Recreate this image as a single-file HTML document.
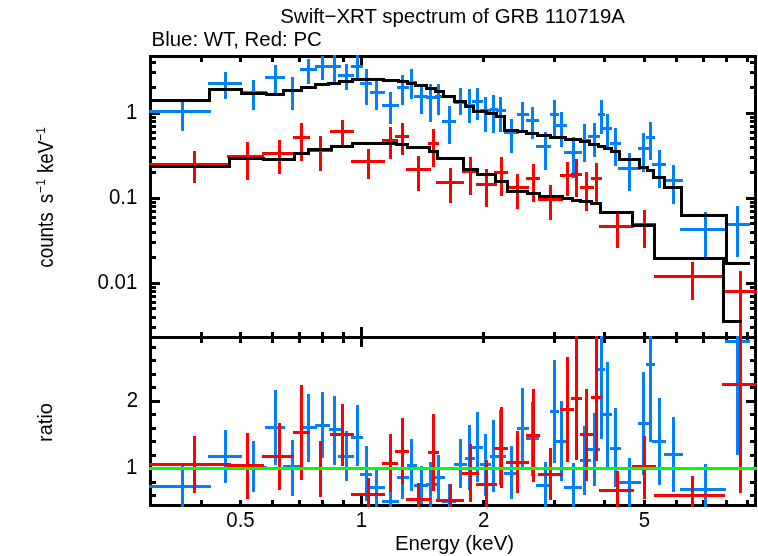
<!DOCTYPE html>
<html><head><meta charset="utf-8"><title>Swift-XRT spectrum of GRB 110719A</title>
<style>html,body{margin:0;padding:0;background:#fff;}svg{display:block;}</style></head>
<body>
<svg width="758" height="556" viewBox="0 0 758 556">
<g shape-rendering="crispEdges">
<rect x="0" y="0" width="758" height="556" fill="#ffffff"/>
<rect x="149" y="55" width="608" height="3" fill="#000000"/>
<rect x="149" y="336" width="608" height="3" fill="#000000"/>
<rect x="149" y="504" width="608" height="3" fill="#000000"/>
<rect x="149" y="55" width="3" height="452" fill="#000000"/>
<rect x="754" y="55" width="3" height="452" fill="#000000"/>
<rect x="200" y="58" width="3" height="4" fill="#000000"/>
<rect x="200" y="332" width="3" height="11" fill="#000000"/>
<rect x="200" y="500" width="3" height="4" fill="#000000"/>
<rect x="239" y="58" width="3" height="4" fill="#000000"/>
<rect x="239" y="332" width="3" height="11" fill="#000000"/>
<rect x="239" y="500" width="3" height="4" fill="#000000"/>
<rect x="271" y="58" width="3" height="4" fill="#000000"/>
<rect x="271" y="332" width="3" height="11" fill="#000000"/>
<rect x="271" y="500" width="3" height="4" fill="#000000"/>
<rect x="298" y="58" width="3" height="4" fill="#000000"/>
<rect x="298" y="332" width="3" height="11" fill="#000000"/>
<rect x="298" y="500" width="3" height="4" fill="#000000"/>
<rect x="321" y="58" width="3" height="4" fill="#000000"/>
<rect x="321" y="332" width="3" height="11" fill="#000000"/>
<rect x="321" y="500" width="3" height="4" fill="#000000"/>
<rect x="342" y="58" width="3" height="4" fill="#000000"/>
<rect x="342" y="332" width="3" height="11" fill="#000000"/>
<rect x="342" y="500" width="3" height="4" fill="#000000"/>
<rect x="360" y="58" width="3" height="8" fill="#000000"/>
<rect x="360" y="327" width="3" height="20" fill="#000000"/>
<rect x="360" y="496" width="3" height="8" fill="#000000"/>
<rect x="482" y="58" width="3" height="4" fill="#000000"/>
<rect x="482" y="332" width="3" height="11" fill="#000000"/>
<rect x="482" y="500" width="3" height="4" fill="#000000"/>
<rect x="553" y="58" width="3" height="4" fill="#000000"/>
<rect x="553" y="332" width="3" height="11" fill="#000000"/>
<rect x="553" y="500" width="3" height="4" fill="#000000"/>
<rect x="603" y="58" width="3" height="4" fill="#000000"/>
<rect x="603" y="332" width="3" height="11" fill="#000000"/>
<rect x="603" y="500" width="3" height="4" fill="#000000"/>
<rect x="643" y="58" width="3" height="4" fill="#000000"/>
<rect x="643" y="332" width="3" height="11" fill="#000000"/>
<rect x="643" y="500" width="3" height="4" fill="#000000"/>
<rect x="675" y="58" width="3" height="4" fill="#000000"/>
<rect x="675" y="332" width="3" height="11" fill="#000000"/>
<rect x="675" y="500" width="3" height="4" fill="#000000"/>
<rect x="702" y="58" width="3" height="4" fill="#000000"/>
<rect x="702" y="332" width="3" height="11" fill="#000000"/>
<rect x="702" y="500" width="3" height="4" fill="#000000"/>
<rect x="725" y="58" width="3" height="4" fill="#000000"/>
<rect x="725" y="332" width="3" height="11" fill="#000000"/>
<rect x="725" y="500" width="3" height="4" fill="#000000"/>
<rect x="746" y="58" width="3" height="4" fill="#000000"/>
<rect x="746" y="332" width="3" height="11" fill="#000000"/>
<rect x="746" y="500" width="3" height="4" fill="#000000"/>
<rect x="152" y="112" width="8" height="3" fill="#000000"/>
<rect x="746" y="112" width="8" height="3" fill="#000000"/>
<rect x="152" y="86" width="4" height="3" fill="#000000"/>
<rect x="750" y="86" width="4" height="3" fill="#000000"/>
<rect x="152" y="71" width="4" height="3" fill="#000000"/>
<rect x="750" y="71" width="4" height="3" fill="#000000"/>
<rect x="152" y="61" width="4" height="3" fill="#000000"/>
<rect x="750" y="61" width="4" height="3" fill="#000000"/>
<rect x="152" y="197" width="8" height="3" fill="#000000"/>
<rect x="746" y="197" width="8" height="3" fill="#000000"/>
<rect x="152" y="171" width="4" height="3" fill="#000000"/>
<rect x="750" y="171" width="4" height="3" fill="#000000"/>
<rect x="152" y="156" width="4" height="3" fill="#000000"/>
<rect x="750" y="156" width="4" height="3" fill="#000000"/>
<rect x="152" y="146" width="4" height="3" fill="#000000"/>
<rect x="750" y="146" width="4" height="3" fill="#000000"/>
<rect x="152" y="137" width="4" height="3" fill="#000000"/>
<rect x="750" y="137" width="4" height="3" fill="#000000"/>
<rect x="152" y="131" width="4" height="3" fill="#000000"/>
<rect x="750" y="131" width="4" height="3" fill="#000000"/>
<rect x="152" y="125" width="4" height="3" fill="#000000"/>
<rect x="750" y="125" width="4" height="3" fill="#000000"/>
<rect x="152" y="120" width="4" height="3" fill="#000000"/>
<rect x="750" y="120" width="4" height="3" fill="#000000"/>
<rect x="152" y="116" width="4" height="3" fill="#000000"/>
<rect x="750" y="116" width="4" height="3" fill="#000000"/>
<rect x="152" y="282" width="8" height="3" fill="#000000"/>
<rect x="746" y="282" width="8" height="3" fill="#000000"/>
<rect x="152" y="256" width="4" height="3" fill="#000000"/>
<rect x="750" y="256" width="4" height="3" fill="#000000"/>
<rect x="152" y="241" width="4" height="3" fill="#000000"/>
<rect x="750" y="241" width="4" height="3" fill="#000000"/>
<rect x="152" y="231" width="4" height="3" fill="#000000"/>
<rect x="750" y="231" width="4" height="3" fill="#000000"/>
<rect x="152" y="222" width="4" height="3" fill="#000000"/>
<rect x="750" y="222" width="4" height="3" fill="#000000"/>
<rect x="152" y="216" width="4" height="3" fill="#000000"/>
<rect x="750" y="216" width="4" height="3" fill="#000000"/>
<rect x="152" y="210" width="4" height="3" fill="#000000"/>
<rect x="750" y="210" width="4" height="3" fill="#000000"/>
<rect x="152" y="205" width="4" height="3" fill="#000000"/>
<rect x="750" y="205" width="4" height="3" fill="#000000"/>
<rect x="152" y="201" width="4" height="3" fill="#000000"/>
<rect x="750" y="201" width="4" height="3" fill="#000000"/>
<rect x="152" y="326" width="4" height="3" fill="#000000"/>
<rect x="750" y="326" width="4" height="3" fill="#000000"/>
<rect x="152" y="316" width="4" height="3" fill="#000000"/>
<rect x="750" y="316" width="4" height="3" fill="#000000"/>
<rect x="152" y="307" width="4" height="3" fill="#000000"/>
<rect x="750" y="307" width="4" height="3" fill="#000000"/>
<rect x="152" y="301" width="4" height="3" fill="#000000"/>
<rect x="750" y="301" width="4" height="3" fill="#000000"/>
<rect x="152" y="295" width="4" height="3" fill="#000000"/>
<rect x="750" y="295" width="4" height="3" fill="#000000"/>
<rect x="152" y="290" width="4" height="3" fill="#000000"/>
<rect x="750" y="290" width="4" height="3" fill="#000000"/>
<rect x="152" y="286" width="4" height="3" fill="#000000"/>
<rect x="750" y="286" width="4" height="3" fill="#000000"/>
<rect x="152" y="494" width="4" height="3" fill="#000000"/>
<rect x="750" y="494" width="4" height="3" fill="#000000"/>
<rect x="152" y="481" width="4" height="3" fill="#000000"/>
<rect x="750" y="481" width="4" height="3" fill="#000000"/>
<rect x="152" y="467" width="8" height="3" fill="#000000"/>
<rect x="746" y="467" width="8" height="3" fill="#000000"/>
<rect x="152" y="454" width="4" height="3" fill="#000000"/>
<rect x="750" y="454" width="4" height="3" fill="#000000"/>
<rect x="152" y="440" width="4" height="3" fill="#000000"/>
<rect x="750" y="440" width="4" height="3" fill="#000000"/>
<rect x="152" y="427" width="4" height="3" fill="#000000"/>
<rect x="750" y="427" width="4" height="3" fill="#000000"/>
<rect x="152" y="413" width="4" height="3" fill="#000000"/>
<rect x="750" y="413" width="4" height="3" fill="#000000"/>
<rect x="152" y="400" width="8" height="3" fill="#000000"/>
<rect x="746" y="400" width="8" height="3" fill="#000000"/>
<rect x="152" y="386" width="4" height="3" fill="#000000"/>
<rect x="750" y="386" width="4" height="3" fill="#000000"/>
<rect x="152" y="373" width="4" height="3" fill="#000000"/>
<rect x="750" y="373" width="4" height="3" fill="#000000"/>
<rect x="152" y="359" width="4" height="3" fill="#000000"/>
<rect x="750" y="359" width="4" height="3" fill="#000000"/>
<rect x="152" y="346" width="4" height="3" fill="#000000"/>
<rect x="750" y="346" width="4" height="3" fill="#000000"/>
<rect x="149" y="110" width="62" height="3" fill="#0080ff"/>
<rect x="181" y="99" width="3" height="32" fill="#0080ff"/>
<rect x="208" y="82" width="34" height="3" fill="#0080ff"/>
<rect x="224" y="72" width="3" height="27" fill="#0080ff"/>
<rect x="240" y="91" width="27" height="3" fill="#0080ff"/>
<rect x="252" y="80" width="3" height="30" fill="#0080ff"/>
<rect x="265" y="76" width="20" height="3" fill="#0080ff"/>
<rect x="274" y="65" width="3" height="28" fill="#0080ff"/>
<rect x="283" y="89" width="20" height="3" fill="#0080ff"/>
<rect x="291" y="77" width="3" height="33" fill="#0080ff"/>
<rect x="300" y="68" width="17" height="3" fill="#0080ff"/>
<rect x="307" y="59" width="3" height="25" fill="#0080ff"/>
<rect x="315" y="65" width="15" height="3" fill="#0080ff"/>
<rect x="321" y="56" width="3" height="24" fill="#0080ff"/>
<rect x="329" y="65" width="12" height="3" fill="#0080ff"/>
<rect x="333" y="55" width="3" height="27" fill="#0080ff"/>
<rect x="338" y="74" width="16" height="3" fill="#0080ff"/>
<rect x="345" y="64" width="3" height="26" fill="#0080ff"/>
<rect x="351" y="65" width="12" height="3" fill="#0080ff"/>
<rect x="356" y="55" width="3" height="24" fill="#0080ff"/>
<rect x="360" y="82" width="12" height="3" fill="#0080ff"/>
<rect x="365" y="69" width="3" height="36" fill="#0080ff"/>
<rect x="370" y="91" width="15" height="3" fill="#0080ff"/>
<rect x="375" y="81" width="3" height="29" fill="#0080ff"/>
<rect x="382" y="104" width="17" height="3" fill="#0080ff"/>
<rect x="389" y="92" width="3" height="32" fill="#0080ff"/>
<rect x="397" y="86" width="12" height="3" fill="#0080ff"/>
<rect x="401" y="75" width="3" height="30" fill="#0080ff"/>
<rect x="407" y="81" width="10" height="3" fill="#0080ff"/>
<rect x="410" y="69" width="3" height="30" fill="#0080ff"/>
<rect x="414" y="95" width="14" height="3" fill="#0080ff"/>
<rect x="420" y="86" width="3" height="28" fill="#0080ff"/>
<rect x="426" y="96" width="11" height="3" fill="#0080ff"/>
<rect x="429" y="84" width="3" height="38" fill="#0080ff"/>
<rect x="435" y="95" width="10" height="3" fill="#0080ff"/>
<rect x="437" y="84" width="3" height="31" fill="#0080ff"/>
<rect x="442" y="120" width="14" height="3" fill="#0080ff"/>
<rect x="448" y="106" width="3" height="38" fill="#0080ff"/>
<rect x="454" y="101" width="13" height="3" fill="#0080ff"/>
<rect x="459" y="88" width="3" height="27" fill="#0080ff"/>
<rect x="465" y="104" width="10" height="3" fill="#0080ff"/>
<rect x="468" y="89" width="3" height="34" fill="#0080ff"/>
<rect x="472" y="100" width="11" height="3" fill="#0080ff"/>
<rect x="476" y="88" width="3" height="32" fill="#0080ff"/>
<rect x="480" y="109" width="11" height="3" fill="#0080ff"/>
<rect x="484" y="97" width="3" height="35" fill="#0080ff"/>
<rect x="490" y="108" width="8" height="3" fill="#0080ff"/>
<rect x="492" y="95" width="3" height="38" fill="#0080ff"/>
<rect x="496" y="109" width="10" height="3" fill="#0080ff"/>
<rect x="499" y="97" width="3" height="35" fill="#0080ff"/>
<rect x="504" y="131" width="15" height="3" fill="#0080ff"/>
<rect x="510" y="119" width="3" height="34" fill="#0080ff"/>
<rect x="517" y="113" width="12" height="3" fill="#0080ff"/>
<rect x="521" y="102" width="3" height="31" fill="#0080ff"/>
<rect x="526" y="119" width="13" height="3" fill="#0080ff"/>
<rect x="531" y="107" width="3" height="32" fill="#0080ff"/>
<rect x="536" y="145" width="15" height="3" fill="#0080ff"/>
<rect x="544" y="132" width="3" height="38" fill="#0080ff"/>
<rect x="550" y="113" width="9" height="3" fill="#0080ff"/>
<rect x="553" y="100" width="3" height="36" fill="#0080ff"/>
<rect x="556" y="124" width="11" height="3" fill="#0080ff"/>
<rect x="560" y="112" width="3" height="35" fill="#0080ff"/>
<rect x="564" y="151" width="18" height="3" fill="#0080ff"/>
<rect x="572" y="137" width="3" height="41" fill="#0080ff"/>
<rect x="580" y="139" width="11" height="3" fill="#0080ff"/>
<rect x="583" y="124" width="3" height="38" fill="#0080ff"/>
<rect x="588" y="135" width="12" height="3" fill="#0080ff"/>
<rect x="593" y="123" width="3" height="34" fill="#0080ff"/>
<rect x="598" y="113" width="7" height="3" fill="#0080ff"/>
<rect x="600" y="100" width="3" height="34" fill="#0080ff"/>
<rect x="602" y="127" width="10" height="3" fill="#0080ff"/>
<rect x="606" y="114" width="3" height="34" fill="#0080ff"/>
<rect x="610" y="142" width="11" height="3" fill="#0080ff"/>
<rect x="614" y="128" width="3" height="38" fill="#0080ff"/>
<rect x="618" y="167" width="23" height="3" fill="#0080ff"/>
<rect x="628" y="153" width="3" height="38" fill="#0080ff"/>
<rect x="638" y="147" width="12" height="3" fill="#0080ff"/>
<rect x="642" y="133" width="3" height="39" fill="#0080ff"/>
<rect x="646" y="136" width="9" height="3" fill="#0080ff"/>
<rect x="649" y="122" width="3" height="38" fill="#0080ff"/>
<rect x="652" y="163" width="14" height="3" fill="#0080ff"/>
<rect x="658" y="150" width="3" height="38" fill="#0080ff"/>
<rect x="664" y="179" width="19" height="3" fill="#0080ff"/>
<rect x="672" y="165" width="3" height="39" fill="#0080ff"/>
<rect x="680" y="228" width="46" height="3" fill="#0080ff"/>
<rect x="704" y="212" width="3" height="48" fill="#0080ff"/>
<rect x="725" y="223" width="25" height="3" fill="#0080ff"/>
<rect x="736" y="206" width="3" height="51" fill="#0080ff"/>
<rect x="149" y="163" width="82" height="3" fill="#ff0000"/>
<rect x="193" y="151" width="3" height="32" fill="#ff0000"/>
<rect x="227" y="155" width="37" height="3" fill="#ff0000"/>
<rect x="246" y="142" width="3" height="38" fill="#ff0000"/>
<rect x="262" y="152" width="32" height="3" fill="#ff0000"/>
<rect x="278" y="140" width="3" height="34" fill="#ff0000"/>
<rect x="293" y="136" width="17" height="3" fill="#ff0000"/>
<rect x="300" y="123" width="3" height="38" fill="#ff0000"/>
<rect x="309" y="149" width="24" height="3" fill="#ff0000"/>
<rect x="319" y="136" width="3" height="35" fill="#ff0000"/>
<rect x="330" y="130" width="24" height="3" fill="#ff0000"/>
<rect x="341" y="120" width="3" height="26" fill="#ff0000"/>
<rect x="351" y="160" width="34" height="3" fill="#ff0000"/>
<rect x="367" y="149" width="3" height="30" fill="#ff0000"/>
<rect x="382" y="139" width="16" height="3" fill="#ff0000"/>
<rect x="389" y="127" width="3" height="32" fill="#ff0000"/>
<rect x="395" y="135" width="14" height="3" fill="#ff0000"/>
<rect x="401" y="123" width="3" height="32" fill="#ff0000"/>
<rect x="406" y="168" width="25" height="3" fill="#ff0000"/>
<rect x="417" y="156" width="3" height="35" fill="#ff0000"/>
<rect x="428" y="142" width="11" height="3" fill="#ff0000"/>
<rect x="432" y="129" width="3" height="38" fill="#ff0000"/>
<rect x="436" y="181" width="28" height="3" fill="#ff0000"/>
<rect x="449" y="168" width="3" height="35" fill="#ff0000"/>
<rect x="462" y="170" width="17" height="3" fill="#ff0000"/>
<rect x="469" y="157" width="3" height="38" fill="#ff0000"/>
<rect x="476" y="183" width="21" height="3" fill="#ff0000"/>
<rect x="485" y="169" width="3" height="38" fill="#ff0000"/>
<rect x="494" y="171" width="14" height="3" fill="#ff0000"/>
<rect x="500" y="157" width="3" height="39" fill="#ff0000"/>
<rect x="506" y="186" width="23" height="3" fill="#ff0000"/>
<rect x="516" y="174" width="3" height="35" fill="#ff0000"/>
<rect x="526" y="177" width="14" height="3" fill="#ff0000"/>
<rect x="532" y="164" width="3" height="38" fill="#ff0000"/>
<rect x="538" y="198" width="25" height="3" fill="#ff0000"/>
<rect x="549" y="185" width="3" height="35" fill="#ff0000"/>
<rect x="560" y="174" width="14" height="3" fill="#ff0000"/>
<rect x="566" y="162" width="3" height="34" fill="#ff0000"/>
<rect x="571" y="173" width="11" height="3" fill="#ff0000"/>
<rect x="575" y="159" width="3" height="38" fill="#ff0000"/>
<rect x="580" y="186" width="14" height="3" fill="#ff0000"/>
<rect x="585" y="172" width="3" height="39" fill="#ff0000"/>
<rect x="591" y="177" width="11" height="3" fill="#ff0000"/>
<rect x="595" y="163" width="3" height="39" fill="#ff0000"/>
<rect x="599" y="225" width="35" height="3" fill="#ff0000"/>
<rect x="616" y="214" width="3" height="34" fill="#ff0000"/>
<rect x="632" y="223" width="24" height="3" fill="#ff0000"/>
<rect x="643" y="210" width="3" height="38" fill="#ff0000"/>
<rect x="654" y="275" width="71" height="3" fill="#ff0000"/>
<rect x="691" y="262" width="3" height="38" fill="#ff0000"/>
<rect x="722" y="290" width="35" height="3" fill="#ff0000"/>
<rect x="739" y="271" width="3" height="68" fill="#ff0000"/>
<rect x="149" y="99" width="62" height="3" fill="#000000"/>
<rect x="208" y="88" width="3" height="14" fill="#000000"/>
<rect x="208" y="88" width="35" height="3" fill="#000000"/>
<rect x="240" y="88" width="3" height="7" fill="#000000"/>
<rect x="240" y="92" width="28" height="3" fill="#000000"/>
<rect x="265" y="92" width="3" height="4" fill="#000000"/>
<rect x="265" y="93" width="20" height="3" fill="#000000"/>
<rect x="282" y="89" width="3" height="7" fill="#000000"/>
<rect x="282" y="89" width="21" height="3" fill="#000000"/>
<rect x="300" y="86" width="3" height="6" fill="#000000"/>
<rect x="300" y="86" width="17" height="3" fill="#000000"/>
<rect x="314" y="83" width="3" height="6" fill="#000000"/>
<rect x="314" y="83" width="16" height="3" fill="#000000"/>
<rect x="327" y="82" width="3" height="4" fill="#000000"/>
<rect x="327" y="82" width="14" height="3" fill="#000000"/>
<rect x="338" y="80" width="3" height="5" fill="#000000"/>
<rect x="338" y="80" width="16" height="3" fill="#000000"/>
<rect x="351" y="78" width="3" height="5" fill="#000000"/>
<rect x="351" y="78" width="12" height="3" fill="#000000"/>
<rect x="360" y="78" width="3" height="3" fill="#000000"/>
<rect x="360" y="78" width="25" height="3" fill="#000000"/>
<rect x="382" y="78" width="3" height="4" fill="#000000"/>
<rect x="382" y="79" width="18" height="3" fill="#000000"/>
<rect x="397" y="79" width="3" height="4" fill="#000000"/>
<rect x="397" y="80" width="12" height="3" fill="#000000"/>
<rect x="406" y="80" width="3" height="5" fill="#000000"/>
<rect x="406" y="82" width="11" height="3" fill="#000000"/>
<rect x="414" y="82" width="3" height="5" fill="#000000"/>
<rect x="414" y="84" width="14" height="3" fill="#000000"/>
<rect x="425" y="84" width="3" height="6" fill="#000000"/>
<rect x="425" y="87" width="12" height="3" fill="#000000"/>
<rect x="434" y="87" width="3" height="6" fill="#000000"/>
<rect x="434" y="90" width="11" height="3" fill="#000000"/>
<rect x="442" y="90" width="3" height="8" fill="#000000"/>
<rect x="442" y="95" width="14" height="3" fill="#000000"/>
<rect x="453" y="95" width="3" height="8" fill="#000000"/>
<rect x="453" y="100" width="14" height="3" fill="#000000"/>
<rect x="464" y="100" width="3" height="8" fill="#000000"/>
<rect x="464" y="105" width="11" height="3" fill="#000000"/>
<rect x="472" y="105" width="3" height="8" fill="#000000"/>
<rect x="472" y="110" width="16" height="3" fill="#000000"/>
<rect x="485" y="110" width="3" height="5" fill="#000000"/>
<rect x="485" y="112" width="13" height="3" fill="#000000"/>
<rect x="495" y="112" width="3" height="6" fill="#000000"/>
<rect x="495" y="115" width="11" height="3" fill="#000000"/>
<rect x="503" y="115" width="3" height="17" fill="#000000"/>
<rect x="503" y="129" width="16" height="3" fill="#000000"/>
<rect x="516" y="129" width="3" height="4" fill="#000000"/>
<rect x="516" y="130" width="12" height="3" fill="#000000"/>
<rect x="525" y="130" width="3" height="5" fill="#000000"/>
<rect x="525" y="132" width="14" height="3" fill="#000000"/>
<rect x="536" y="132" width="3" height="5" fill="#000000"/>
<rect x="536" y="134" width="16" height="3" fill="#000000"/>
<rect x="549" y="134" width="3" height="5" fill="#000000"/>
<rect x="549" y="136" width="18" height="3" fill="#000000"/>
<rect x="564" y="136" width="3" height="5" fill="#000000"/>
<rect x="564" y="138" width="18" height="3" fill="#000000"/>
<rect x="579" y="138" width="3" height="5" fill="#000000"/>
<rect x="579" y="140" width="12" height="3" fill="#000000"/>
<rect x="588" y="140" width="3" height="6" fill="#000000"/>
<rect x="588" y="143" width="12" height="3" fill="#000000"/>
<rect x="597" y="143" width="3" height="5" fill="#000000"/>
<rect x="597" y="145" width="9" height="3" fill="#000000"/>
<rect x="603" y="145" width="3" height="5" fill="#000000"/>
<rect x="603" y="147" width="10" height="3" fill="#000000"/>
<rect x="610" y="147" width="3" height="6" fill="#000000"/>
<rect x="610" y="150" width="11" height="3" fill="#000000"/>
<rect x="618" y="150" width="3" height="11" fill="#000000"/>
<rect x="618" y="158" width="23" height="3" fill="#000000"/>
<rect x="638" y="158" width="3" height="11" fill="#000000"/>
<rect x="638" y="166" width="11" height="3" fill="#000000"/>
<rect x="646" y="166" width="3" height="6" fill="#000000"/>
<rect x="646" y="169" width="9" height="3" fill="#000000"/>
<rect x="652" y="169" width="3" height="10" fill="#000000"/>
<rect x="652" y="176" width="14" height="3" fill="#000000"/>
<rect x="663" y="176" width="3" height="13" fill="#000000"/>
<rect x="663" y="186" width="20" height="3" fill="#000000"/>
<rect x="680" y="186" width="3" height="31" fill="#000000"/>
<rect x="680" y="214" width="48" height="3" fill="#000000"/>
<rect x="725" y="214" width="3" height="51" fill="#000000"/>
<rect x="725" y="262" width="25" height="3" fill="#000000"/>
<rect x="149" y="165" width="82" height="3" fill="#000000"/>
<rect x="228" y="157" width="3" height="11" fill="#000000"/>
<rect x="228" y="157" width="37" height="3" fill="#000000"/>
<rect x="262" y="157" width="3" height="4" fill="#000000"/>
<rect x="262" y="158" width="34" height="3" fill="#000000"/>
<rect x="293" y="152" width="3" height="9" fill="#000000"/>
<rect x="293" y="152" width="17" height="3" fill="#000000"/>
<rect x="307" y="148" width="3" height="7" fill="#000000"/>
<rect x="307" y="148" width="26" height="3" fill="#000000"/>
<rect x="330" y="145" width="3" height="6" fill="#000000"/>
<rect x="330" y="145" width="24" height="3" fill="#000000"/>
<rect x="351" y="142" width="3" height="6" fill="#000000"/>
<rect x="351" y="142" width="47" height="3" fill="#000000"/>
<rect x="395" y="142" width="3" height="4" fill="#000000"/>
<rect x="395" y="143" width="14" height="3" fill="#000000"/>
<rect x="406" y="143" width="3" height="6" fill="#000000"/>
<rect x="406" y="146" width="25" height="3" fill="#000000"/>
<rect x="428" y="146" width="3" height="7" fill="#000000"/>
<rect x="428" y="150" width="11" height="3" fill="#000000"/>
<rect x="436" y="150" width="3" height="10" fill="#000000"/>
<rect x="436" y="157" width="29" height="3" fill="#000000"/>
<rect x="462" y="157" width="3" height="14" fill="#000000"/>
<rect x="462" y="168" width="17" height="3" fill="#000000"/>
<rect x="476" y="168" width="3" height="8" fill="#000000"/>
<rect x="476" y="173" width="21" height="3" fill="#000000"/>
<rect x="494" y="173" width="3" height="10" fill="#000000"/>
<rect x="494" y="180" width="15" height="3" fill="#000000"/>
<rect x="506" y="180" width="3" height="13" fill="#000000"/>
<rect x="506" y="190" width="23" height="3" fill="#000000"/>
<rect x="526" y="190" width="3" height="5" fill="#000000"/>
<rect x="526" y="192" width="15" height="3" fill="#000000"/>
<rect x="538" y="192" width="3" height="6" fill="#000000"/>
<rect x="538" y="195" width="26" height="3" fill="#000000"/>
<rect x="561" y="195" width="3" height="5" fill="#000000"/>
<rect x="561" y="197" width="13" height="3" fill="#000000"/>
<rect x="571" y="197" width="3" height="5" fill="#000000"/>
<rect x="571" y="199" width="11" height="3" fill="#000000"/>
<rect x="579" y="199" width="3" height="4" fill="#000000"/>
<rect x="579" y="200" width="14" height="3" fill="#000000"/>
<rect x="590" y="200" width="3" height="5" fill="#000000"/>
<rect x="590" y="202" width="12" height="3" fill="#000000"/>
<rect x="599" y="202" width="3" height="12" fill="#000000"/>
<rect x="599" y="211" width="35" height="3" fill="#000000"/>
<rect x="631" y="211" width="3" height="16" fill="#000000"/>
<rect x="631" y="224" width="25" height="3" fill="#000000"/>
<rect x="653" y="224" width="3" height="36" fill="#000000"/>
<rect x="653" y="257" width="72" height="3" fill="#000000"/>
<rect x="722" y="257" width="3" height="66" fill="#000000"/>
<rect x="722" y="320" width="20" height="3" fill="#000000"/>
<rect x="149" y="485" width="62" height="3" fill="#0080ff"/>
<rect x="181" y="466" width="3" height="41" fill="#0080ff"/>
<rect x="208" y="455" width="34" height="3" fill="#0080ff"/>
<rect x="224" y="430" width="3" height="53" fill="#0080ff"/>
<rect x="240" y="466" width="27" height="3" fill="#0080ff"/>
<rect x="252" y="441" width="3" height="51" fill="#0080ff"/>
<rect x="265" y="426" width="20" height="3" fill="#0080ff"/>
<rect x="274" y="390" width="3" height="75" fill="#0080ff"/>
<rect x="283" y="465" width="20" height="3" fill="#0080ff"/>
<rect x="291" y="440" width="3" height="56" fill="#0080ff"/>
<rect x="300" y="426" width="17" height="3" fill="#0080ff"/>
<rect x="307" y="394" width="3" height="68" fill="#0080ff"/>
<rect x="315" y="424" width="15" height="3" fill="#0080ff"/>
<rect x="321" y="392" width="3" height="66" fill="#0080ff"/>
<rect x="329" y="428" width="12" height="3" fill="#0080ff"/>
<rect x="333" y="396" width="3" height="69" fill="#0080ff"/>
<rect x="338" y="455" width="16" height="3" fill="#0080ff"/>
<rect x="345" y="431" width="3" height="50" fill="#0080ff"/>
<rect x="351" y="436" width="12" height="3" fill="#0080ff"/>
<rect x="356" y="405" width="3" height="61" fill="#0080ff"/>
<rect x="360" y="473" width="12" height="3" fill="#0080ff"/>
<rect x="365" y="446" width="3" height="55" fill="#0080ff"/>
<rect x="370" y="486" width="15" height="3" fill="#0080ff"/>
<rect x="375" y="467" width="3" height="40" fill="#0080ff"/>
<rect x="382" y="500" width="17" height="3" fill="#0080ff"/>
<rect x="389" y="487" width="3" height="20" fill="#0080ff"/>
<rect x="397" y="476" width="12" height="3" fill="#0080ff"/>
<rect x="401" y="456" width="3" height="43" fill="#0080ff"/>
<rect x="407" y="464" width="10" height="3" fill="#0080ff"/>
<rect x="410" y="439" width="3" height="52" fill="#0080ff"/>
<rect x="414" y="484" width="14" height="3" fill="#0080ff"/>
<rect x="420" y="466" width="3" height="38" fill="#0080ff"/>
<rect x="426" y="483" width="11" height="3" fill="#0080ff"/>
<rect x="429" y="462" width="3" height="45" fill="#0080ff"/>
<rect x="435" y="476" width="10" height="3" fill="#0080ff"/>
<rect x="437" y="455" width="3" height="44" fill="#0080ff"/>
<rect x="442" y="500" width="14" height="3" fill="#0080ff"/>
<rect x="448" y="484" width="3" height="23" fill="#0080ff"/>
<rect x="454" y="463" width="13" height="3" fill="#0080ff"/>
<rect x="459" y="439" width="3" height="49" fill="#0080ff"/>
<rect x="465" y="457" width="10" height="3" fill="#0080ff"/>
<rect x="468" y="425" width="3" height="65" fill="#0080ff"/>
<rect x="472" y="446" width="11" height="3" fill="#0080ff"/>
<rect x="476" y="412" width="3" height="70" fill="#0080ff"/>
<rect x="480" y="463" width="11" height="3" fill="#0080ff"/>
<rect x="484" y="434" width="3" height="62" fill="#0080ff"/>
<rect x="490" y="455" width="8" height="3" fill="#0080ff"/>
<rect x="492" y="420" width="3" height="72" fill="#0080ff"/>
<rect x="496" y="455" width="10" height="3" fill="#0080ff"/>
<rect x="499" y="410" width="3" height="75" fill="#0080ff"/>
<rect x="504" y="472" width="15" height="3" fill="#0080ff"/>
<rect x="510" y="446" width="3" height="53" fill="#0080ff"/>
<rect x="517" y="427" width="12" height="3" fill="#0080ff"/>
<rect x="521" y="388" width="3" height="82" fill="#0080ff"/>
<rect x="526" y="437" width="13" height="3" fill="#0080ff"/>
<rect x="531" y="402" width="3" height="74" fill="#0080ff"/>
<rect x="536" y="484" width="15" height="3" fill="#0080ff"/>
<rect x="544" y="462" width="3" height="45" fill="#0080ff"/>
<rect x="550" y="410" width="9" height="3" fill="#0080ff"/>
<rect x="553" y="360" width="3" height="103" fill="#0080ff"/>
<rect x="556" y="440" width="11" height="3" fill="#0080ff"/>
<rect x="560" y="401" width="3" height="80" fill="#0080ff"/>
<rect x="564" y="486" width="18" height="3" fill="#0080ff"/>
<rect x="572" y="463" width="3" height="44" fill="#0080ff"/>
<rect x="580" y="459" width="11" height="3" fill="#0080ff"/>
<rect x="583" y="426" width="3" height="69" fill="#0080ff"/>
<rect x="588" y="448" width="12" height="3" fill="#0080ff"/>
<rect x="593" y="413" width="3" height="73" fill="#0080ff"/>
<rect x="598" y="368" width="7" height="3" fill="#0080ff"/>
<rect x="600" y="336" width="3" height="103" fill="#0080ff"/>
<rect x="602" y="413" width="10" height="3" fill="#0080ff"/>
<rect x="606" y="362" width="3" height="105" fill="#0080ff"/>
<rect x="610" y="447" width="11" height="3" fill="#0080ff"/>
<rect x="614" y="408" width="3" height="79" fill="#0080ff"/>
<rect x="618" y="481" width="23" height="3" fill="#0080ff"/>
<rect x="628" y="458" width="3" height="49" fill="#0080ff"/>
<rect x="638" y="422" width="12" height="3" fill="#0080ff"/>
<rect x="642" y="372" width="3" height="103" fill="#0080ff"/>
<rect x="646" y="363" width="9" height="3" fill="#0080ff"/>
<rect x="649" y="336" width="3" height="106" fill="#0080ff"/>
<rect x="652" y="440" width="14" height="3" fill="#0080ff"/>
<rect x="658" y="398" width="3" height="87" fill="#0080ff"/>
<rect x="664" y="453" width="19" height="3" fill="#0080ff"/>
<rect x="672" y="417" width="3" height="75" fill="#0080ff"/>
<rect x="680" y="488" width="46" height="3" fill="#0080ff"/>
<rect x="704" y="464" width="3" height="43" fill="#0080ff"/>
<rect x="725" y="340" width="25" height="3" fill="#0080ff"/>
<rect x="736" y="336" width="3" height="119" fill="#0080ff"/>
<rect x="149" y="463" width="82" height="3" fill="#ff0000"/>
<rect x="193" y="436" width="3" height="57" fill="#ff0000"/>
<rect x="227" y="464" width="37" height="3" fill="#ff0000"/>
<rect x="246" y="433" width="3" height="66" fill="#ff0000"/>
<rect x="262" y="455" width="32" height="3" fill="#ff0000"/>
<rect x="278" y="423" width="3" height="67" fill="#ff0000"/>
<rect x="293" y="431" width="17" height="3" fill="#ff0000"/>
<rect x="300" y="385" width="3" height="95" fill="#ff0000"/>
<rect x="309" y="467" width="24" height="3" fill="#ff0000"/>
<rect x="319" y="441" width="3" height="56" fill="#ff0000"/>
<rect x="330" y="433" width="24" height="3" fill="#ff0000"/>
<rect x="341" y="404" width="3" height="62" fill="#ff0000"/>
<rect x="351" y="493" width="34" height="3" fill="#ff0000"/>
<rect x="367" y="478" width="3" height="29" fill="#ff0000"/>
<rect x="382" y="462" width="16" height="3" fill="#ff0000"/>
<rect x="389" y="434" width="3" height="58" fill="#ff0000"/>
<rect x="395" y="450" width="14" height="3" fill="#ff0000"/>
<rect x="401" y="418" width="3" height="66" fill="#ff0000"/>
<rect x="406" y="498" width="25" height="3" fill="#ff0000"/>
<rect x="417" y="483" width="3" height="24" fill="#ff0000"/>
<rect x="428" y="451" width="11" height="3" fill="#ff0000"/>
<rect x="432" y="414" width="3" height="77" fill="#ff0000"/>
<rect x="436" y="499" width="28" height="3" fill="#ff0000"/>
<rect x="449" y="484" width="3" height="23" fill="#ff0000"/>
<rect x="462" y="472" width="17" height="3" fill="#ff0000"/>
<rect x="469" y="444" width="3" height="58" fill="#ff0000"/>
<rect x="476" y="483" width="21" height="3" fill="#ff0000"/>
<rect x="485" y="460" width="3" height="47" fill="#ff0000"/>
<rect x="494" y="447" width="14" height="3" fill="#ff0000"/>
<rect x="500" y="407" width="3" height="81" fill="#ff0000"/>
<rect x="506" y="461" width="23" height="3" fill="#ff0000"/>
<rect x="516" y="431" width="3" height="62" fill="#ff0000"/>
<rect x="526" y="434" width="14" height="3" fill="#ff0000"/>
<rect x="532" y="389" width="3" height="93" fill="#ff0000"/>
<rect x="538" y="473" width="25" height="3" fill="#ff0000"/>
<rect x="549" y="448" width="3" height="52" fill="#ff0000"/>
<rect x="560" y="408" width="14" height="3" fill="#ff0000"/>
<rect x="566" y="357" width="3" height="105" fill="#ff0000"/>
<rect x="571" y="397" width="11" height="3" fill="#ff0000"/>
<rect x="575" y="336" width="3" height="124" fill="#ff0000"/>
<rect x="580" y="433" width="14" height="3" fill="#ff0000"/>
<rect x="585" y="389" width="3" height="92" fill="#ff0000"/>
<rect x="591" y="396" width="11" height="3" fill="#ff0000"/>
<rect x="595" y="336" width="3" height="125" fill="#ff0000"/>
<rect x="599" y="489" width="35" height="3" fill="#ff0000"/>
<rect x="616" y="471" width="3" height="36" fill="#ff0000"/>
<rect x="632" y="465" width="24" height="3" fill="#ff0000"/>
<rect x="643" y="436" width="3" height="63" fill="#ff0000"/>
<rect x="654" y="494" width="71" height="3" fill="#ff0000"/>
<rect x="691" y="476" width="3" height="31" fill="#ff0000"/>
<rect x="722" y="383" width="35" height="3" fill="#ff0000"/>
<rect x="739" y="336" width="3" height="157" fill="#ff0000"/>
<rect x="149" y="467" width="608" height="3" fill="#00ff00"/>
</g>
<g>
<text transform="translate(452.6,23.3) scale(1,1.02)" text-anchor="middle" font-size="20.45" font-family="Liberation Sans, sans-serif" fill="#000">Swift−XRT spectrum of GRB 110719A</text>
<text transform="translate(151.5,46.3) scale(1,1.02)" text-anchor="start" font-size="20.45" font-family="Liberation Sans, sans-serif" fill="#000">Blue: WT, Red: PC</text>
<text transform="translate(137.3,118.9) scale(1,1.05)" text-anchor="end" font-size="20.45" font-family="Liberation Sans, sans-serif" fill="#000">1</text>
<text transform="translate(137.3,204.1) scale(1,1.05)" text-anchor="end" font-size="20.45" font-family="Liberation Sans, sans-serif" fill="#000">0.1</text>
<text transform="translate(137.3,289) scale(1,1.05)" text-anchor="end" font-size="20.45" font-family="Liberation Sans, sans-serif" fill="#000">0.01</text>
<text transform="translate(138,407) scale(1,1.05)" text-anchor="end" font-size="20.45" font-family="Liberation Sans, sans-serif" fill="#000">2</text>
<text transform="translate(137.3,474.2) scale(1,1.05)" text-anchor="end" font-size="20.45" font-family="Liberation Sans, sans-serif" fill="#000">1</text>
<text transform="translate(240.5,527.1) scale(1,1.05)" text-anchor="middle" font-size="20.45" font-family="Liberation Sans, sans-serif" fill="#000">0.5</text>
<text transform="translate(361.5,527.1) scale(1,1.05)" text-anchor="middle" font-size="20.45" font-family="Liberation Sans, sans-serif" fill="#000">1</text>
<text transform="translate(483.7,527.1) scale(1,1.05)" text-anchor="middle" font-size="20.45" font-family="Liberation Sans, sans-serif" fill="#000">2</text>
<text transform="translate(644.5,527.1) scale(1,1.05)" text-anchor="middle" font-size="20.45" font-family="Liberation Sans, sans-serif" fill="#000">5</text>
<text transform="translate(454.5,549.9) scale(1,1.0)" text-anchor="middle" font-size="20.45" font-family="Liberation Sans, sans-serif" fill="#000">Energy (keV)</text>
<text transform="translate(52.9,267.2) rotate(-90) scale(1,1.13)" text-anchor="start" font-size="18.8" font-family="Liberation Sans, sans-serif" fill="#000"><tspan x="-0.5">counts</tspan><tspan x="64">s</tspan><tspan x="74.4" dy="-6.6" font-size="12">−1</tspan><tspan x="94.1" dy="6.6">keV</tspan><tspan dy="-6.6" font-size="12">−1</tspan></text>
<text transform="translate(52,422.5) rotate(-90) scale(1,1.03)" text-anchor="middle" font-size="20" font-family="Liberation Sans, sans-serif" fill="#000">ratio</text>
</g>
</svg>
</body></html>
